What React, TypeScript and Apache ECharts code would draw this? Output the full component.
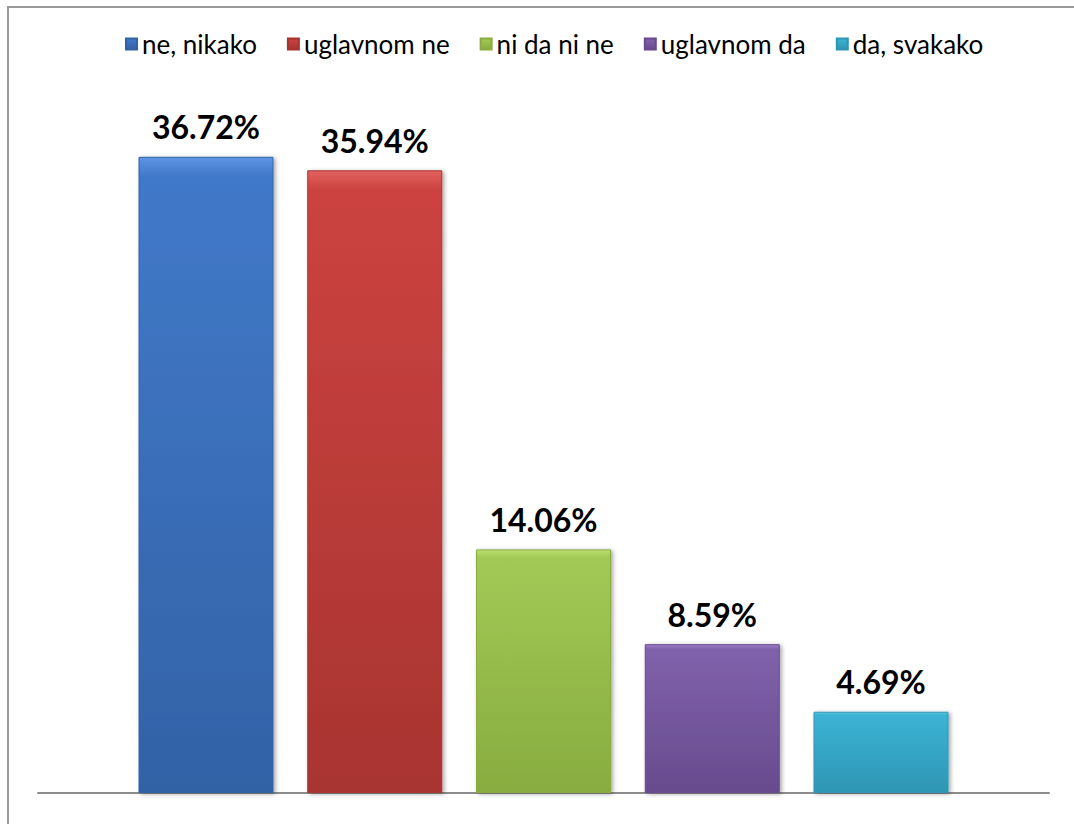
import React, { useEffect, useRef } from "react";
import * as echarts from "echarts";

const categories = [""];
const seriesNames = ["ne, nikako", "uglavnom ne", "ni da ni ne", "uglavnom da", "da, svakako"];
const seriesValues = [36.72, 35.94, 14.06, 8.59, 4.69];
const baseColors = ["#4179C9", "#CC4340", "#A2C955", "#8061AB", "#3CB3D5"];
const lightColors = ["#5C95E2", "#E26260", "#BDE070", "#9C80C8", "#62CCEA"];
const darkColors = ["#3262A6", "#A83431", "#88AC40", "#674B8E", "#2E96B4"];

export default function App() {
  const ref = useRef<HTMLDivElement>(null);
  useEffect(() => {
    document.body.style.margin = "0";
    const chart = echarts.init(ref.current!, null, { renderer: "svg" });
    const font = "Lato, 'Open Sans', sans-serif";
    chart.setOption({
      animation: false,
      backgroundColor: "#ffffff",
      legend: {
        top: 26,
        left: 120,
        itemWidth: 11,
        itemHeight: 11,
        itemGap: 30,
        icon: "rect",
        textStyle: { fontFamily: font, fontSize: 26, color: "#000" },
        data: seriesNames,
      },
      grid: { left: 38, right: 25, top: 100, bottom: 31 },
      xAxis: {
        type: "category",
        data: categories,
        axisLine: { lineStyle: { color: "#8c8c8c", width: 2 } },
        axisTick: { show: false },
        axisLabel: { show: false },
      },
      yAxis: {
        type: "value",
        min: 0,
        max: 40,
        show: false,
        splitLine: { show: false },
      },
      graphic: [
        {
          type: "rect",
          shape: { x: 8, y: 7, width: 1100, height: 900 },
          style: { fill: "none", stroke: "#999", lineWidth: 2 },
          z: -1,
        },
      ],
      series: seriesNames.map((name, i) => ({
        name,
        type: "bar",
        data: [seriesValues[i]],
        barWidth: 135,
        barGap: "25%",
        itemStyle: {
          color: new echarts.graphic.LinearGradient(0, 0, 0, 1, [
            { offset: 0, color: lightColors[i] },
            { offset: 0.03, color: baseColors[i] },
            { offset: 1, color: darkColors[i] },
          ]),
          borderColor: darkColors[i],
          borderWidth: 1,
          shadowColor: "rgba(0,0,0,0.35)",
          shadowBlur: 4,
          shadowOffsetX: 2,
          shadowOffsetY: 1,
        },
        label: {
          show: true,
          position: "top",
          distance: 14,
          formatter: (p: any) => p.value.toFixed(2) + "%",
          fontFamily: font,
          fontSize: 32,
          fontWeight: "bold",
          color: "#000",
        },
      })),
    });
    return () => chart.dispose();
  }, []);
  return <div ref={ref} style={{ width: 1074, height: 824 }} />;
}
